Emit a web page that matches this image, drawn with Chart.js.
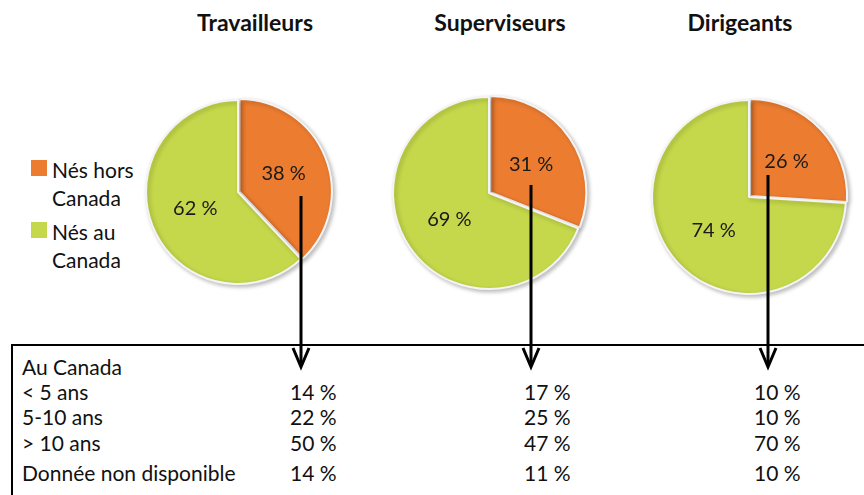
<!DOCTYPE html>
<html>
<head>
<meta charset="utf-8">
<script src="https://cdn.jsdelivr.net/npm/chart.js@4.4.1/dist/chart.umd.min.js"></script>
<style>
  body { margin: 0; background: #fff; font-family: Lato, "Open Sans", sans-serif; color: #111; }
  #page { position: relative; width: 864px; height: 495px; overflow: hidden; }
  .titre { position: absolute; top: 8px; width: 200px; text-align: center; font-weight: bold; font-size: 23px; }
  .pie { position: absolute; width: 230px; height: 230px; }
  .leg { position: absolute; left: 31px; font-size: 21px; line-height: 28px; }
  .leg span.box { position: absolute; left: 0; top: 4px; width: 16px; height: 16px; }
  .leg div.txt { margin-left: 21px; }
  #tableau { position: absolute; left: 11px; top: 344px; width: 900px; height: 200px; border: 2px solid #000; }
  .cell { position: absolute; font-size: 21px; line-height: 25px; white-space: nowrap; }
  svg { position: absolute; left: 0; top: 0; }
</style>
</head>
<body>
<div id="page">
  <div id="tableau"></div>
</div>
<script>
const groupes = ["Travailleurs", "Superviseurs", "Dirigeants"];
const categories = ["Nés hors Canada", "Nés au Canada"];
const horsCanada = [38, 31, 26];
const auCanada = [62, 69, 74];

const lignes = ["Au Canada", "< 5 ans", "5-10 ans", "> 10 ans", "Donnée non disponible"];
const moinsDe5ans = [14, 17, 10];
const de5a10ans = [22, 25, 10];
const plusDe10ans = [50, 47, 70];
const nonDisponible = [14, 11, 10];

const couleurs = ["#EC7C30", "#C5D74A"];

// positions des graphiques
const centres = [[238, 192, 92], [489, 193, 96], [749, 197, 97]];
const centresTitres = [255, 500, 740];
const flechesX = [301, 531, 768];
const flechesDebut = [196, 185, 175];
const colonnesX = [290, 524, 754];
const lignesY = [354, 379, 404, 430, 460];

const $page = document.getElementById("page");

groupes.forEach((g, i) => {
  let $t = document.createElement("div");
  $t.className = "titre";
  $t.style.left = (centresTitres[i] - 100) + "px";
  $t.textContent = g;
  $page.appendChild($t);
});

// légende
const legendeY = [156, 218];
categories.forEach((c, i) => {
  let mots = c.split(" ");
  let $l = document.createElement("div");
  $l.className = "leg";
  $l.style.top = legendeY[i] + "px";
  $l.innerHTML = `<span class="box" style="background:${couleurs[i]}"></span>
    <div class="txt">${mots.slice(0, 2).join(" ")}<br>${mots.slice(2).join(" ")}</div>`;
  $page.appendChild($l);
});

const pluginPie = {
  id: "etiquettes",
  beforeDatasetsDraw(chart) {
    const ctx = chart.ctx;
    ctx.save();
    ctx.shadowColor = "rgba(0,0,0,0.25)";
    ctx.shadowBlur = 4;
    ctx.shadowOffsetX = 2;
    ctx.shadowOffsetY = 2;
  },
  afterDatasetsDraw(chart) {
    const ctx = chart.ctx;
    ctx.restore();
    ctx.save();
    ctx.font = "20px Lato";
    ctx.fillStyle = "#1a1a1a";
    ctx.textAlign = "center";
    ctx.textBaseline = "middle";
    const meta = chart.getDatasetMeta(0);
    meta.data.forEach((arc, j) => {
      const p = arc.tooltipPosition();
      ctx.fillText(chart.data.datasets[0].data[j] + " %", p.x, p.y);
    });
    ctx.restore();
  }
};

groupes.forEach((g, i) => {
  const [cx, cy, r] = centres[i];
  let $c = document.createElement("canvas");
  $c.className = "pie";
  $c.width = 230;
  $c.height = 230;
  $c.style.left = (cx - 115) + "px";
  $c.style.top = (cy - 115) + "px";
  $page.appendChild($c);
  new Chart($c, {
    type: "pie",
    data: {
      labels: categories,
      datasets: [{
        data: [horsCanada[i], auCanada[i]],
        backgroundColor: couleurs,
        borderColor: "#f4f4f4",
        borderWidth: 2,
        offset: [6, 0],
      }],
    },
    options: {
      responsive: false,
      animation: false,
      devicePixelRatio: 1,
      radius: r,
      plugins: { legend: { display: false }, tooltip: { enabled: false } },
    },
    plugins: [pluginPie],
  });
});

// tableau
const valeurs = [null, moinsDe5ans, de5a10ans, plusDe10ans, nonDisponible];
lignes.forEach((l, k) => {
  let $l = document.createElement("div");
  $l.className = "cell";
  $l.style.left = "22px";
  $l.style.top = lignesY[k] + "px";
  $l.textContent = l;
  $page.appendChild($l);
  if (!valeurs[k]) return;
  valeurs[k].forEach((v, i) => {
    let $v = document.createElement("div");
    $v.className = "cell";
    $v.style.left = colonnesX[i] + "px";
    $v.style.top = lignesY[k] + "px";
    $v.textContent = v + " %";
    $page.appendChild($v);
  });
});

// flèches
let svg = `<svg width="864" height="495">`;
flechesX.forEach((x, i) => {
  svg += `<line x1="${x}" y1="${flechesDebut[i]}" x2="${x}" y2="366" stroke="#000" stroke-width="3"/>
    <polyline points="${x - 8},${348} ${x},${367} ${x + 8},${348}" fill="none" stroke="#000" stroke-width="3"/>`;
});
svg += `</svg>`;
$page.insertAdjacentHTML("beforeend", svg);
</script>
</body>
</html>
